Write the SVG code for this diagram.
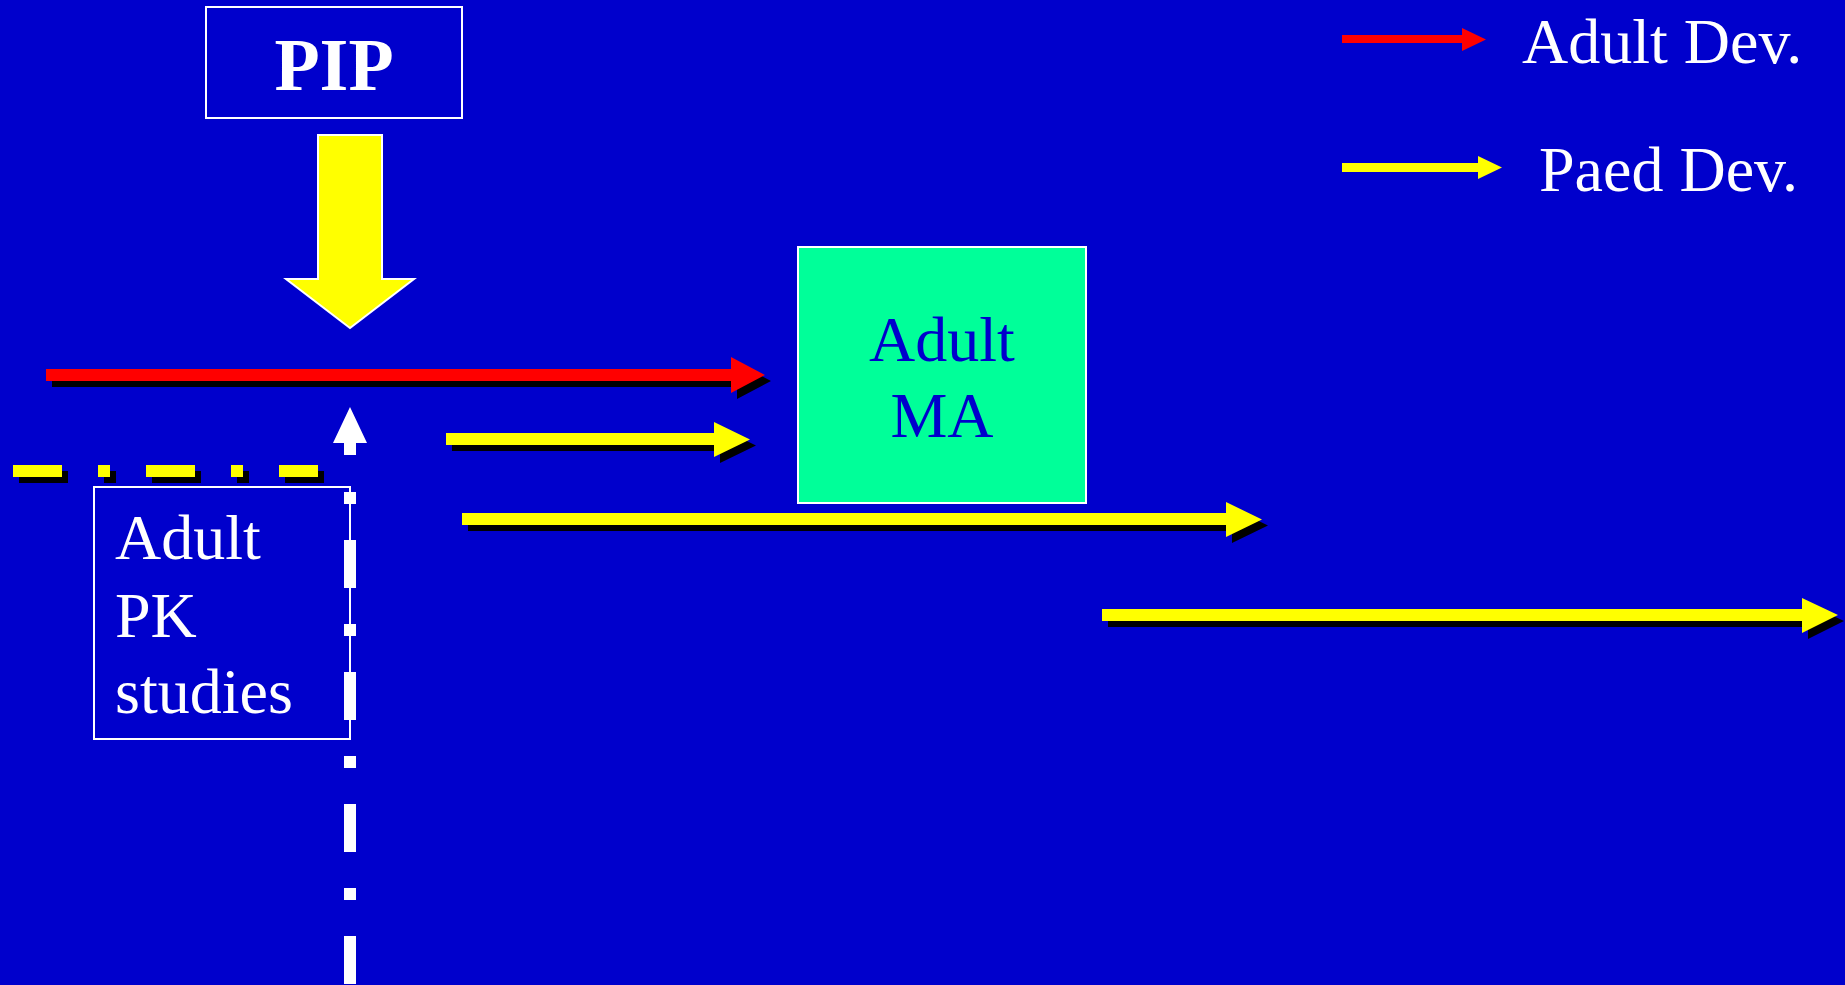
<svg xmlns="http://www.w3.org/2000/svg" width="1845" height="985" viewBox="0 0 1845 985">
<style>
.box{fill:none;stroke:#ffffff;stroke-width:2}
.txt{font-family:"Liberation Serif","Times New Roman",serif;font-size:64px;fill:#ffffff}
.shadow{fill:#000000}
.yel{fill:#ffff00}
.red{fill:#ff0000}
</style>
<rect x="0" y="0" width="1845" height="985" fill="#0000cc"/>

<g id="pip">
<rect class="box" x="206" y="7" width="256" height="111"/>
<text x="334" y="90" text-anchor="middle" style="font-family:'Liberation Serif','Times New Roman',serif;font-size:74px;font-weight:bold;fill:#ffffff">PIP</text>
</g>

<g id="adult-ma">
<rect x="798" y="247" width="288" height="256" fill="#00ff99" stroke="#ffffff" stroke-width="2"/>
<text class="txt" x="942" y="361" text-anchor="middle" style="fill:#0000cc">Adult</text>
<text class="txt" x="942" y="437" text-anchor="middle" style="fill:#0000cc">MA</text>
</g>

<g id="adult-pk">
<rect class="box" x="94" y="487" width="256" height="252"/>
<text class="txt" x="115" y="559">Adult</text>
<text class="txt" x="115" y="637">PK</text>
<text class="txt" x="115" y="713">studies</text>
</g>

<g id="legend">
<path class="red" d="M1342,35 H1462 V28 L1486,39.5 L1462,51 V43 H1342 Z"/>
<text class="txt" x="1522" y="63">Adult Dev.</text>
<path class="yel" d="M1342,163 H1478 V156 L1502,167.5 L1478,179 V172 H1342 Z"/>
<text class="txt" x="1539" y="191">Paed Dev.</text>
</g>

<g id="connectors">
<path d="M318,135 H382 V279 H414 L350,328 L286,279 H318 Z" fill="#ffff00" stroke="#ffffff" stroke-width="2"/>

<path class="shadow" transform="translate(6,6)" d="M46,369 H731 V357 L765,375 L731,393 V381 H46 Z"/>
<path class="red" d="M46,369 H731 V357 L765,375 L731,393 V381 H46 Z"/>

<path class="shadow" transform="translate(6,6)" d="M446,433 H714 V422 L750,439.5 L714,457 V445 H446 Z"/>
<path class="yel" d="M446,433 H714 V422 L750,439.5 L714,457 V445 H446 Z"/>

<path class="shadow" transform="translate(6,6)" d="M462,513 H1226 V502 L1262,519.5 L1226,537 V525 H462 Z"/>
<path class="yel" d="M462,513 H1226 V502 L1262,519.5 L1226,537 V525 H462 Z"/>

<path class="shadow" transform="translate(6,6)" d="M1102,609 H1802 V598 L1838,615 L1802,633 V621 H1102 Z"/>
<path class="yel" d="M1102,609 H1802 V598 L1838,615 L1802,633 V621 H1102 Z"/>

<line x1="13" y1="477" x2="318" y2="477" transform="translate(6,0)" stroke="#000000" stroke-width="12" stroke-dasharray="49 36 12 36"/>
<line x1="13" y1="471" x2="318" y2="471" stroke="#ffff00" stroke-width="12" stroke-dasharray="49 36 12 36"/>

<path d="M350,407 L367,443 H356 V455 H344 V443 H333 Z" fill="#ffffff"/>
<line x1="350" y1="492" x2="350" y2="985" stroke="#ffffff" stroke-width="12" stroke-dasharray="12 36 48 36"/>
</g>
</svg>
